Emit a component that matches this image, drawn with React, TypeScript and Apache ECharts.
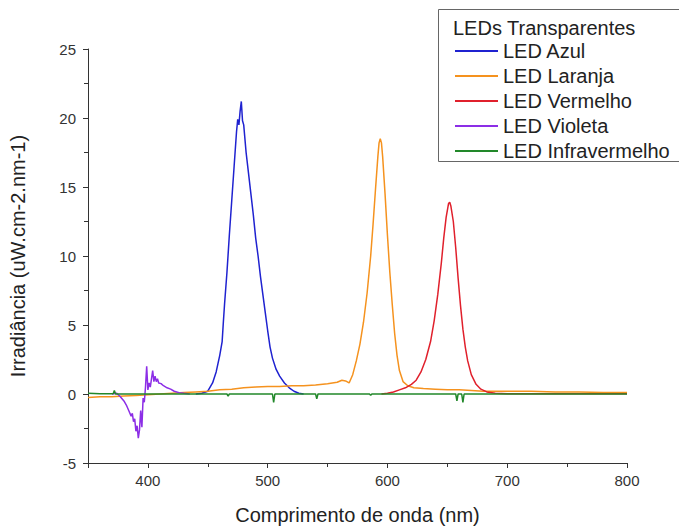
import React, { useEffect, useRef } from "react";
import * as echarts from "echarts";

// ---- Data ----
const seriesNames = ["LED Azul", "LED Laranja", "LED Vermelho", "LED Violeta", "LED Infravermelho"];
const legendTitle = "LEDs Transparentes";

const azulX = [440, 445, 450, 454, 457, 460, 462, 463, 464, 466, 468, 470, 472, 474, 475, 476, 477, 478, 479, 480, 482, 484, 486, 488, 490, 492, 494, 496, 498, 500, 502, 504, 507, 510, 514, 518, 522, 526, 530];
const azulY = [0, 0.05, 0.2, 0.8, 1.6, 2.8, 3.8, 5.2, 6.5, 8.8, 11.5, 14, 16.5, 19, 19.9, 19.5, 20.5, 21.2, 19.8, 19.5, 17.5, 16, 14.5, 13, 11.3, 10, 8.5, 7.2, 5.9, 4.6, 3.4, 2.6, 1.8, 1.3, 0.8, 0.45, 0.2, 0.05, 0];

const laranjaX = [350, 360, 370, 380, 390, 400, 410, 420, 430, 440, 450, 460, 470, 480, 490, 500, 510, 520, 530, 540, 550, 558, 562, 565, 568, 571, 574, 577, 580, 583, 586, 588, 590, 592, 593, 594, 595, 596, 598, 600, 602, 604, 606, 608, 610, 613, 617, 622, 630, 640, 650, 660, 670, 680, 700, 720, 740, 760, 780, 800];
const laranjaY = [-0.25, -0.2, -0.2, -0.15, -0.1, -0.05, 0, 0.05, 0.1, 0.15, 0.2, 0.3, 0.35, 0.45, 0.5, 0.55, 0.55, 0.6, 0.6, 0.65, 0.75, 0.85, 1.0, 0.95, 0.8, 1.4, 2.4, 3.6, 5.2, 7.3, 10, 12.3, 14.8, 17.2, 18.2, 18.5, 18.2, 17.2, 14.5, 11.5, 8.8, 6.5, 4.4, 2.8, 1.7, 0.9, 0.6, 0.45, 0.4, 0.35, 0.3, 0.3, 0.25, 0.2, 0.2, 0.2, 0.15, 0.15, 0.1, 0.1];

const vermelhoX = [595, 600, 605, 610, 615, 620, 624, 628, 632, 636, 639, 642, 645, 647, 649, 651, 652, 653, 655, 657, 659, 661, 663, 665, 667, 670, 674, 678, 683, 690, 700, 750, 800];
const vermelhoY = [0, 0.05, 0.15, 0.3, 0.45, 0.7, 1.0, 1.6, 2.5, 3.8, 5.3, 7.2, 9.5, 11.3, 12.8, 13.8, 13.9, 13.6, 12.5, 10.6, 8.4, 6.4, 4.7, 3.4, 2.4, 1.4, 0.7, 0.35, 0.15, 0.05, 0.02, 0.02, 0.02];

const violetaX = [370, 374, 377, 380, 382, 384, 386, 387, 388, 389, 390, 391, 392, 393, 394, 395, 396, 397, 398, 399, 400, 401, 402, 403, 404, 405, 406, 407, 408, 409, 411, 413, 416, 419, 422, 426, 430, 435];
const violetaY = [0, 0.05, -0.2, -0.5, -0.8, -1.2, -1.6, -1.4, -2.0, -1.8, -2.7, -2.3, -3.2, -2.6, -1.2, -2.4, -0.3, -0.6, 0.5, 2.0, 0.3, 0.8, 0.5, 1.1, 1.7, 0.9, 1.3, 0.9, 1.1, 0.8, 0.75, 0.6, 0.45, 0.35, 0.2, 0.1, 0.05, 0];

const infraX = [350, 360, 371, 372, 373, 400, 450, 466, 467, 468, 500, 504, 505, 506, 540, 541, 542, 585, 586, 587, 620, 657, 658, 659, 662, 663, 664, 700, 750, 800];
const infraY = [0.05, 0.02, 0.02, 0.25, 0, 0, 0, 0, -0.15, 0, 0, 0, -0.6, 0, 0, -0.35, 0, 0, -0.1, 0, 0, 0, -0.5, 0, 0, -0.6, 0, 0, 0, 0];

const xMajorTicks = [350, 400, 500, 600, 700, 800];
const xLabels = [400, 500, 600, 700, 800];
const xMinorTicks = [450, 550, 650, 750];

const colors = ["#1f22d0", "#f5921e", "#e0202c", "#8c2ee6", "#22882a"];

const zip = (xs: number[], ys: number[]) => xs.map((x, i) => [x, ys[i]]);

export default function App() {
  const ref = useRef<HTMLDivElement>(null);
  useEffect(() => {
    document.body.style.margin = "0";
    const chart = echarts.init(ref.current!, undefined, { renderer: "svg" });
    const font = "'Liberation Sans', Arial, sans-serif";
    const datasets = [zip(azulX, azulY), zip(laranjaX, laranjaY), zip(vermelhoX, vermelhoY), zip(violetaX, violetaY), zip(infraX, infraY)];
    chart.setOption({
      animation: false,
      backgroundColor: "#ffffff",
      textStyle: { fontFamily: font },
      grid: { left: 88, right: 52, top: 49, bottom: 66, containLabel: false },
      xAxis: [
        {
          type: "value",
          min: 350,
          max: 800,
          name: "Comprimento de onda (nm)",
          nameLocation: "middle",
          nameGap: 42,
          nameTextStyle: { fontSize: 20, color: "#222", fontFamily: font },
          axisLine: { show: true, onZero: false, lineStyle: { color: "#333", width: 1 } },
          axisTick: { show: true, length: 5, customValues: xMajorTicks, lineStyle: { color: "#333" } },
          axisLabel: { customValues: xLabels, fontSize: 15, color: "#333", margin: 10, fontFamily: font },
          splitLine: { show: false },
        },
        {
          type: "value",
          min: 350,
          max: 800,
          position: "bottom",
          axisLine: { show: false, onZero: false },
          axisTick: { show: true, length: 4, customValues: xMinorTicks, lineStyle: { color: "#333" } },
          axisLabel: { show: false },
          splitLine: { show: false },
        },
      ],
      yAxis: {
        type: "value",
        min: -5,
        max: 25,
        interval: 5,
        name: "Irradiância (uW.cm-2.nm-1)",
        nameLocation: "middle",
        nameGap: 60,
        nameRotate: 90,
        nameTextStyle: { fontSize: 20, color: "#222", fontFamily: font },
        axisLine: { show: true, onZero: false, lineStyle: { color: "#333", width: 1 } },
        axisTick: { show: true, length: 5, lineStyle: { color: "#333" } },
        minorTick: { show: true, splitNumber: 2, length: 4, lineStyle: { color: "#333" } },
        axisLabel: { fontSize: 15, color: "#333", margin: 12, fontFamily: font },
        splitLine: { show: false },
        minorSplitLine: { show: false },
      },
      legend: {
        orient: "vertical",
        left: 455,
        top: 40,
        padding: 0,
        itemGap: 3,
        itemWidth: 43,
        itemHeight: 2,
        icon: "rect",
        data: seriesNames,
        textStyle: { fontSize: 20, color: "#222", lineHeight: 22, fontFamily: font },
      },
      graphic: [
        {
          type: "rect",
          shape: { x: 438.5, y: 9.5, width: 260, height: 152 },
          style: { fill: "none", stroke: "#666", lineWidth: 1 },
          z: 10,
          silent: true,
        },
        {
          type: "text",
          x: 453,
          y: 28,
          style: { text: legendTitle, fontSize: 20, fill: "#222", fontFamily: font, verticalAlign: "middle", align: "left" },
          z: 10,
          silent: true,
        },
      ],
      series: seriesNames.map((name, i) => ({
        name,
        type: "line",
        data: datasets[i],
        showSymbol: false,
        symbol: "none",
        color: colors[i],
        lineStyle: { width: 1.5, color: colors[i] },
        z: 2 + i,
      })),
    });
    return () => chart.dispose();
  }, []);
  return <div ref={ref} style={{ width: 679, height: 530 }} />;
}
